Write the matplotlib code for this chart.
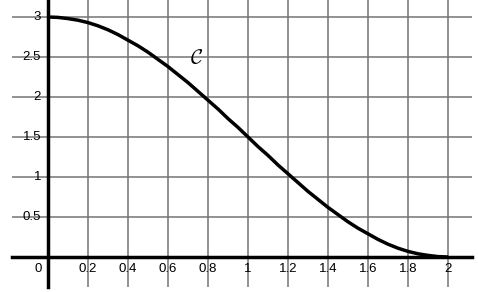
import matplotlib.pyplot as plt

# curve points
xs = [0.0, 0.05, 0.1, 0.15, 0.2, 0.25, 0.3, 0.35, 0.4, 0.45, 0.5, 0.55, 0.6, 0.65,
      0.7, 0.75, 0.8, 0.85, 0.9, 0.95, 1.0, 1.05, 1.1, 1.15, 1.2, 1.25, 1.3, 1.35,
      1.4, 1.45, 1.5, 1.55, 1.6, 1.65, 1.7, 1.75, 1.8, 1.85, 1.9, 1.95, 2.0]
ys = [3.0, 2.995, 2.98, 2.96, 2.93, 2.89, 2.84, 2.78, 2.71, 2.64, 2.56, 2.47, 2.38, 2.28,
      2.18, 2.07, 1.96, 1.85, 1.73, 1.62, 1.5, 1.38, 1.27, 1.15, 1.04, 0.93, 0.82, 0.72,
      0.62, 0.53, 0.44, 0.36, 0.29, 0.22, 0.16, 0.11, 0.07, 0.04, 0.02, 0.005, 0.0]

x_ticks = [0.2, 0.4, 0.6, 0.8, 1.0, 1.2, 1.4, 1.6, 1.8, 2.0]
x_labels = ["0.2", "0.4", "0.6", "0.8", "1", "1.2", "1.4", "1.6", "1.8", "2"]
y_ticks = [0.5, 1.0, 1.5, 2.0, 2.5, 3.0]
y_labels = ["0.5", "1", "1.5", "2", "2.5", "3"]

plt.rcParams['font.family'] = ['Liberation Sans', 'DejaVu Sans']
plt.rcParams['mathtext.fontset'] = 'cm'

fig = plt.figure(figsize=(4.78, 2.92), dpi=100)
ax = fig.add_axes([0, 0, 1, 1])
ax.set_xlim(-0.24, 2.15)
ax.set_ylim(-0.4375, 3.2125)
ax.axis('off')

grid_c = '#747474'
ax.hlines(y_ticks, -0.18, 2.12, color=grid_c, lw=1.1, zorder=1)
ax.vlines(x_ticks, -0.375, 3.22, color=grid_c, lw=1.1, zorder=1)

# axes
ax.plot([-0.18, 2.12], [0, 0], color='black', lw=2.5, zorder=3)
ax.plot([0, 0], [-0.375, 3.22], color='black', lw=2.5, zorder=3)

ax.plot(xs, ys, color='black', lw=2.5, zorder=4, solid_capstyle='butt')

for t, lab in zip(y_ticks, y_labels):
    ax.text(-0.035, t, lab, ha='right', va='center', fontsize=9.5, zorder=2)
for t, lab in zip(x_ticks, x_labels):
    ax.text(t, -0.15, lab, ha='center', va='center', fontsize=9.5, zorder=2)
ax.text(-0.05, -0.15, "0", ha='center', va='center', fontsize=9.5)

ax.text(0.745, 2.48, r'$\mathcal{C}$', ha='center', va='center', fontsize=15)

fig.savefig('out.png', dpi=100)
